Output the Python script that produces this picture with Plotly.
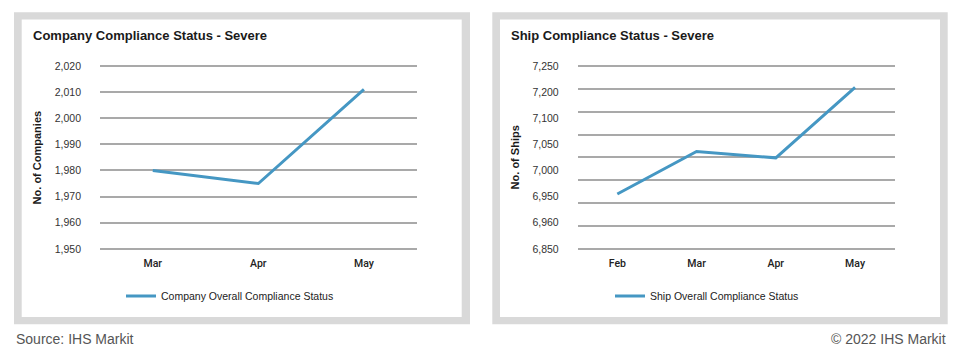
import numpy as np
import plotly.graph_objects as go

W, H = 975, 361

# ---- data ----
company_months = ["Mar", "Apr", "May"]
company_values = [1980, 1975, 2011]
company_ticks = [1950, 1960, 1970, 1980, 1990, 2000, 2010, 2020]

ship_months = ["Feb", "Mar", "Apr", "May"]
ship_values = [6970, 7063, 7049, 7203]
ship_tick_labels = ["7,250", "7,200", "7,100", "7,050", "7,000", "6,950", "6,960", "6,850"]
ship_grid = [6850, 6900, 6950, 7000, 7050, 7100, 7150, 7200, 7250]

LINE = "#4597c3"
GRID = "#a9a9a9"
TXT = "#333333"
FONT = "Liberation Sans, Arial, sans-serif"

PLOT_TOP, PLOT_BOT = 64, 250   # pixel rows of top/bottom gridline
EDGE = 3                        # extra pixels so edge gridlines are drawn


def px(x):
    return x / W


def py(y):
    return 1 - y / H


fig = go.Figure()
fig.add_trace(go.Scatter(x=company_months, y=company_values, mode="lines",
                         line=dict(color=LINE, width=3),
                         name="Company Overall Compliance Status",
                         xaxis="x", yaxis="y", legend="legend"))
fig.add_trace(go.Scatter(x=ship_months, y=ship_values, mode="lines",
                         line=dict(color=LINE, width=3),
                         name="Ship Overall Compliance Status",
                         xaxis="x2", yaxis="y2", legend="legend2"))

lo, hi = ship_grid[0], ship_grid[-1]
ship_label_pos = list(np.linspace(hi, lo, len(ship_tick_labels)))
frac = EDGE / (PLOT_BOT - PLOT_TOP)
pad_s = (hi - lo) * frac
pad_c = (company_ticks[-1] - company_ticks[0]) * frac
ydom = [py(PLOT_BOT + EDGE), py(PLOT_TOP - EDGE)]

common_x = dict(showgrid=False, zeroline=False, showline=False, ticks="",
                tickfont=dict(family="Roboto, sans-serif", size=10.5, color="#222222", weight=500),
                ticklabelstandoff=4, fixedrange=True)
common_y = dict(zeroline=False, showline=False, ticks="",
                tickfont=dict(family=FONT, size=10.5, color=TXT),
                ticklabelstandoff=18, fixedrange=True)

fig.update_layout(
    width=W, height=H, autosize=False,
    margin=dict(l=0, r=0, t=0, b=0),
    paper_bgcolor="white", plot_bgcolor="rgba(0,0,0,0)",
    font=dict(family=FONT, color=TXT),
    xaxis=dict(domain=[px(100), px(416.7)], anchor="y", range=[-0.5, 2.5], **common_x),
    yaxis=dict(domain=ydom, anchor="x",
               range=[company_ticks[0] - pad_c, company_ticks[-1] + pad_c],
               tickvals=company_ticks, tickformat=",d",
               showgrid=True, gridcolor=GRID, gridwidth=1.5, **common_y),
    xaxis2=dict(domain=[px(577.7), px(894.7)], anchor="y2", range=[-0.5, 3.5], **common_x),
    yaxis2=dict(domain=ydom, anchor="x2", range=[lo - pad_s, hi + pad_s],
                tickmode="array", tickvals=ship_label_pos, ticktext=ship_tick_labels,
                showgrid=False,
                minor=dict(tickmode="array", tickvals=ship_grid, showgrid=True,
                           gridcolor=GRID, gridwidth=1.5, ticks=""),
                **common_y),
    legend=dict(orientation="h", x=px(230), xanchor="center", y=py(298), yanchor="middle",
                font=dict(family=FONT, size=10.5, color="#222222"), bgcolor="rgba(0,0,0,0)",
                itemwidth=30),
    legend2=dict(orientation="h", x=px(707), xanchor="center", y=py(298), yanchor="middle",
                 font=dict(family=FONT, size=10.5, color="#222222"), bgcolor="rgba(0,0,0,0)",
                 itemwidth=30),
    showlegend=True,
)

shapes = []
for (x0, x1, ix0, ix1) in [(14, 470, 21.7, 461.7), (492.3, 947.7, 500, 940)]:
    shapes.append(dict(type="rect", xref="paper", yref="paper", layer="below",
                       x0=px(x0), x1=px(x1), y0=py(326.7), y1=py(9.3),
                       fillcolor="#d9d9d9", line=dict(width=0)))
    shapes.append(dict(type="rect", xref="paper", yref="paper", layer="below",
                       x0=px(ix0), x1=px(ix1), y0=py(319.3), y1=py(16.7),
                       fillcolor="white", line=dict(width=0)))
fig.update_layout(shapes=shapes)

ann = [
    dict(text="<b>Company Compliance Status - Severe</b>", x=px(31), y=py(33),
         xanchor="left", yanchor="middle", font=dict(size=13, color="#1a1a1a")),
    dict(text="<b>Ship Compliance Status - Severe</b>", x=px(509), y=py(33),
         xanchor="left", yanchor="middle", font=dict(size=13, color="#1a1a1a")),
    dict(text="<b>No. of Companies</b>", x=px(37), y=py(157), textangle=-90,
         xanchor="center", yanchor="middle", font=dict(size=11, color="#1a1a1a")),
    dict(text="<b>No. of Ships</b>", x=px(515), y=py(157), textangle=-90,
         xanchor="center", yanchor="middle", font=dict(size=11, color="#1a1a1a")),
    dict(text="Source: IHS Markit", x=px(14), y=py(342), xanchor="left", yanchor="middle",
         font=dict(size=14, color="#555555")),
    dict(text="© 2022 IHS Markit", x=px(948), y=py(342), xanchor="right", yanchor="middle",
         font=dict(size=14, color="#555555")),
]
for a in ann:
    a.update(xref="paper", yref="paper", showarrow=False)
    a["font"]["family"] = FONT
fig.update_layout(annotations=ann)

fig.write_html("out.html", config={"displayModeBar": False},
               post_script="document.body.style.margin='0';document.body.style.padding='0';")
